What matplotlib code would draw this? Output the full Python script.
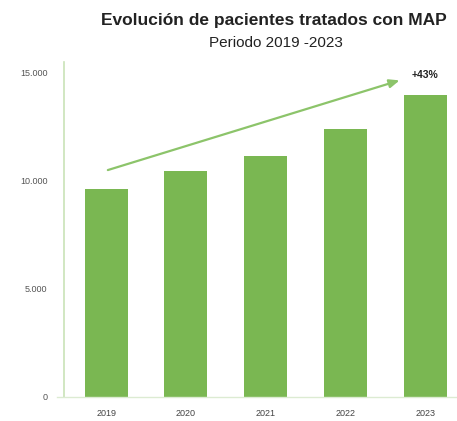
import matplotlib
matplotlib.use("Agg")
import matplotlib.pyplot as plt

years = ["2019", "2020", "2021", "2022", "2023"]
patients = [9630, 10460, 11170, 12420, 13980]
yticks = [0, 5000, 10000, 15000]
ytick_labels = ["0", "5.000", "10.000", "15.000"]
growth_label = "+43%"

plt.rcParams['font.family'] = ['Liberation Sans', 'DejaVu Sans']

bar_color = "#7ab752"
axis_color = "#c9e3b8"
base_color = "#dcebd2"
arrow_color = "#8cc46a"

fig = plt.figure(figsize=(4.57, 4.21), dpi=100)
ax = fig.add_axes([64/457, 24/421, 393/457, 335/421])

x = list(range(len(years)))
ax.bar(x, patients, width=0.54, color=bar_color, zorder=2)

ax.set_xlim(-0.53, 4.4)
ax.set_ylim(0, 15500)
ax.set_yticks(yticks)
ax.set_yticklabels(ytick_labels, fontsize=6.5, color="#555555")
ax.set_xticks(x)
ax.set_xticklabels(years, fontsize=6.5, color="#444444")
ax.tick_params(axis='y', length=0, pad=12)
ax.tick_params(axis='x', length=0, pad=9)

for s in ["top", "right"]:
    ax.spines[s].set_visible(False)
ax.spines["left"].set_color(axis_color)
ax.spines["left"].set_linewidth(1.2)
ax.spines["bottom"].set_color(base_color)
ax.spines["bottom"].set_linewidth(1.0)
ax.spines["bottom"].set_bounds(-0.62, 4.4)

# growth arrow
ax.annotate("", xy=(3.68, 14650), xytext=(0.02, 10500),
            arrowprops=dict(arrowstyle="-|>,head_length=0.6,head_width=0.25",
                            color=arrow_color, lw=1.6, shrinkA=0, shrinkB=0),
            zorder=3)
ax.text(4, patients[-1] + 700, growth_label, ha="center", va="bottom",
        fontsize=7.5, fontweight="bold", color="#222222")

fig.text(274/457, 1 - 20/421, "Evolución de pacientes tratados con MAP",
         ha="center", va="center", fontsize=12.5, fontweight="bold", color="#222222")
fig.text(276/457, 1 - 43/421, "Periodo 2019 -2023",
         ha="center", va="center", fontsize=11, color="#222222")

fig.savefig("out.png", dpi=100)
